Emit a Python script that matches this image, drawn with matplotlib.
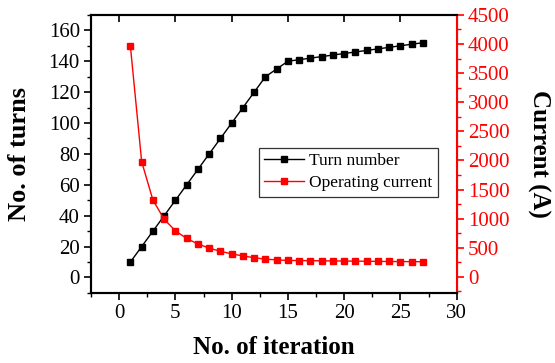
import matplotlib
matplotlib.use("Agg")
import matplotlib.pyplot as plt
from matplotlib.ticker import MultipleLocator

iteration = list(range(1, 28))
turns = [10, 20, 30, 40, 50, 60, 70, 80, 90, 100, 110, 120, 130, 135,
         140, 141, 142, 143, 144, 145, 146, 147, 148, 149, 150, 151, 152]
current = [3960, 1980, 1320, 990, 792, 660, 566, 495, 440, 396, 360, 330, 305, 293,
           283, 281, 279, 277, 275, 273, 271, 269, 267, 265, 264, 262, 261]

plt.rcParams['font.family'] = ['Liberation Serif', 'DejaVu Serif']

fig = plt.figure(figsize=(5.55, 3.63), dpi=100)
ax = fig.add_axes([0.164, 0.193, 0.659, 0.766])
ax2 = ax.twinx()

l1, = ax.plot(iteration, turns, color='black', marker='s', markersize=5, lw=1.0,
              label='Turn number')
l2, = ax2.plot(iteration, current, color='red', marker='s', markersize=5, lw=1.0,
               label='Operating current')

ax.set_xlim(-2.5, 30)
ax.set_ylim(-10, 170)
ax2.set_ylim(-275, 4500)

ax.xaxis.set_major_locator(MultipleLocator(5))
ax.xaxis.set_minor_locator(MultipleLocator(2.5))
ax.yaxis.set_major_locator(MultipleLocator(20))
ax.yaxis.set_minor_locator(MultipleLocator(10))
ax2.yaxis.set_major_locator(MultipleLocator(500))
ax2.yaxis.set_minor_locator(MultipleLocator(250))

ax.tick_params(axis='both', which='major', direction='out', length=5, width=1.2,
               labelsize=15, top=False, pad=3)
ax.tick_params(axis='both', which='minor', direction='out', length=3, width=1.0)
ax.tick_params(axis='x', which='minor', top=False)
ax.set_xticks(range(0, 31, 5))

# top spine carries inward major ticks without labels
sec = ax.secondary_xaxis('top')
sec.set_xticks(range(0, 31, 5))
sec.tick_params(direction='in', length=5, width=1.2, labeltop=False)
sec.spines['top'].set_visible(False)

ax2.tick_params(axis='y', which='major', direction='out', length=5, width=1.2,
                labelsize=15, colors='red', pad=3)
ax2.tick_params(axis='y', which='minor', direction='out', length=3, width=1.0,
                colors='red')
ax2.spines['right'].set_color('red')
ax2.spines['right'].set_linewidth(1.5)
for s in ['left', 'bottom', 'top']:
    ax.spines[s].set_linewidth(1.5)
    ax2.spines[s].set_linewidth(1.5)

ax.set_xlabel('No. of iteration', fontsize=18, fontweight='bold', labelpad=9)
ax.set_ylabel('No. of turns', fontsize=19, fontweight='bold', labelpad=13)
ax2.set_ylabel('Current (A)', fontsize=18, fontweight='bold', rotation=270,
               labelpad=29)

leg = ax.legend(handles=[l1, l2], loc='upper left', bbox_to_anchor=(0.459, 0.522),
                fontsize=12.5, frameon=True, fancybox=False, edgecolor='black',
                handlelength=2.3, borderpad=0.3, labelspacing=0.35,
                handletextpad=0.3, borderaxespad=0)
leg.get_frame().set_linewidth(0.9)

fig.savefig('out.png', dpi=100)
